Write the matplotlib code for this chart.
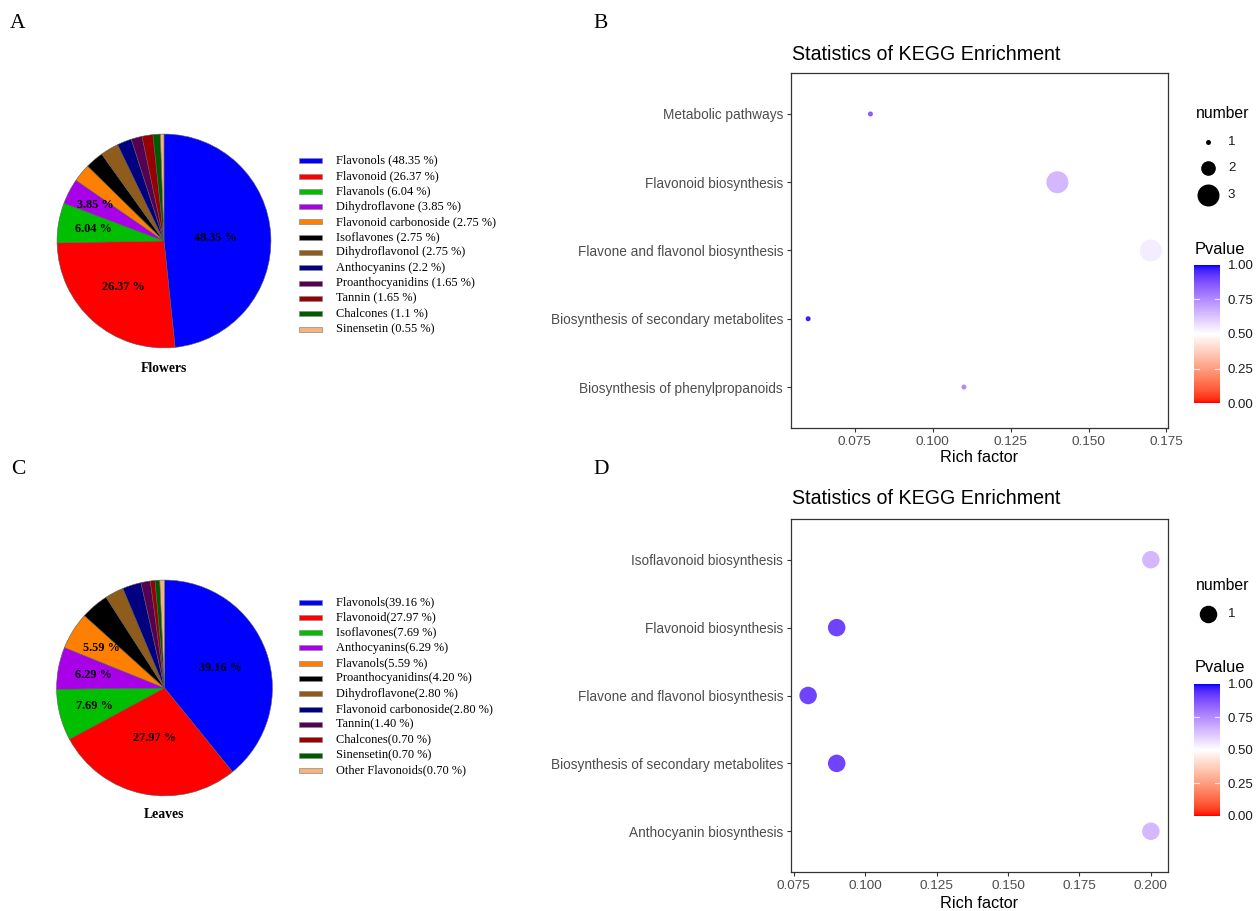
import numpy as np
import matplotlib
matplotlib.use("Agg")
import matplotlib.pyplot as plt
from matplotlib.colors import ListedColormap, Normalize
from matplotlib.patches import Rectangle
from matplotlib.ticker import MultipleLocator, FormatStrFormatter

W, H, DPI = 1258, 911, 100

# ---------------- data ----------------
flower_classes = ["Flavonols", "Flavonoid", "Flavanols", "Dihydroflavone",
                  "Flavonoid carbonoside", "Isoflavones", "Dihydroflavonol",
                  "Anthocyanins", "Proanthocyanidins", "Tannin", "Chalcones",
                  "Sinensetin"]
flower_pct = [48.35, 26.37, 6.04, 3.85, 2.75, 2.75, 2.75, 2.2, 1.65, 1.65, 1.1, 0.55]

leaf_classes = ["Flavonols", "Flavonoid", "Isoflavones", "Anthocyanins", "Flavanols",
                "Proanthocyanidins", "Dihydroflavone", "Flavonoid carbonoside",
                "Tannin", "Chalcones", "Sinensetin", "Other Flavonoids"]
leaf_pct = [39.16, 27.97, 7.69, 6.29, 5.59, 4.20, 2.80, 2.80, 1.40, 0.70, 0.70, 0.70]

slice_colors = ["#0000ff", "#ff0000", "#00bf00", "#a800e8", "#ff8000", "#000000",
                "#8f5c1c", "#000080", "#560052", "#990000", "#005a00", "#f5b47c"]

kegg_b_terms = ["Metabolic pathways", "Flavonoid biosynthesis",
                "Flavone and flavonol biosynthesis",
                "Biosynthesis of secondary metabolites",
                "Biosynthesis of phenylpropanoids"]
kegg_b_rich = [0.08, 0.14, 0.17, 0.06, 0.11]
kegg_b_number = [1, 3, 3, 1, 1]
kegg_b_pvalue = [0.85, 0.65, 0.54, 0.97, 0.75]

kegg_d_terms = ["Isoflavonoid biosynthesis", "Flavonoid biosynthesis",
                "Flavone and flavonol biosynthesis",
                "Biosynthesis of secondary metabolites",
                "Anthocyanin biosynthesis"]
kegg_d_rich = [0.20, 0.09, 0.08, 0.09, 0.20]
kegg_d_number = [1, 1, 1, 1, 1]
kegg_d_pvalue = [0.65, 0.90, 0.90, 0.90, 0.65]

# ---------------- colour scale (red - white - blue, Lab interpolation) ----------------
_M = np.array([[0.4124564, 0.3575761, 0.1804375],
               [0.2126729, 0.7151522, 0.0721750],
               [0.0193339, 0.1191920, 0.9503041]])
_WHITE = np.array([0.95047, 1.0, 1.08883])
_D = 6 / 29


def srgb_to_lab(rgb):
    rgb = np.asarray(rgb, float)
    lin = np.where(rgb <= 0.04045, rgb / 12.92, ((rgb + 0.055) / 1.055) ** 2.4)
    t = (lin @ _M.T) / _WHITE
    f = np.where(t > _D ** 3, np.cbrt(t), t / (3 * _D * _D) + 4 / 29)
    return np.stack([116 * f[..., 1] - 16,
                     500 * (f[..., 0] - f[..., 1]),
                     200 * (f[..., 1] - f[..., 2])], -1)


def lab_to_srgb(lab):
    fy = (lab[..., 0] + 16) / 116
    fx = fy + lab[..., 1] / 500
    fz = fy - lab[..., 2] / 200

    def finv(f):
        return np.where(f > _D, f ** 3, 3 * _D * _D * (f - 4 / 29))

    xyz = np.stack([finv(fx), finv(fy), finv(fz)], -1) * _WHITE
    lin = np.clip(xyz @ np.linalg.inv(_M).T, 0, 1)
    rgb = np.where(lin <= 0.0031308, 12.92 * lin, 1.055 * lin ** (1 / 2.4) - 0.055)
    return np.clip(rgb, 0, 1)


lab_low, lab_mid, lab_high = (srgb_to_lab(c) for c in ([1, 0, 0], [1, 1, 1], [0, 0, 1]))
tt = np.linspace(0, 1, 256)[:, None]
lab = np.where(tt < 0.5,
               lab_low + (lab_mid - lab_low) * (tt / 0.5),
               lab_mid + (lab_high - lab_mid) * ((tt - 0.5) / 0.5))
pcmap = ListedColormap(lab_to_srgb(lab))
pnorm = Normalize(0, 1)

# ---------------- figure ----------------
fig = plt.figure(figsize=(W / DPI, H / DPI), dpi=DPI)
fig.patch.set_facecolor("white")


def px_axes(x0, y0, x1, y1, **kw):
    return fig.add_axes([x0 / W, 1 - y1 / H, (x1 - x0) / W, (y1 - y0) / H], **kw)


canvas = px_axes(0, 0, W, H)
canvas.set_xlim(0, W)
canvas.set_ylim(H, 0)
canvas.axis("off")
canvas.patch.set_alpha(0)

SERIF = "Liberation Serif"
SANS = "Liberation Sans"

for letter, (x, y) in zip("ABCD", [(18, 24), (601, 24), (18, 469), (601, 469)]):
    canvas.text(x, y, letter, family=SERIF, fontsize=15.5, ha="center", va="center")


def pie_panel(cx, cy, r, values, classes, n_labels, label_r, caption, cap_y,
              leg_y0, fmt):
    ax = px_axes(cx - r, cy - r, cx + r, cy + r)
    ax.patch.set_alpha(0)
    wedges, _ = ax.pie(values, colors=slice_colors[:len(values)], startangle=90,
                       counterclock=False, radius=1,
                       wedgeprops=dict(edgecolor="#5a5a5a", linewidth=0.4))
    ax.set_xlim(-1.01, 1.01)
    ax.set_ylim(-1.01, 1.01)
    ax.set_aspect("equal")
    for w, v, lr in zip(wedges[:n_labels], values[:n_labels], label_r):
        th = np.deg2rad((w.theta1 + w.theta2) / 2)
        ax.text(lr * np.cos(th), lr * np.sin(th), f"{v:.2f} %", family=SERIF,
                fontweight="bold", fontsize=8.8, ha="center", va="center")
    canvas.text(cx, cap_y, caption, family=SERIF, fontweight="bold",
                fontsize=9.8, ha="center", va="center")
    step = 15.3
    for i, (name, v, w) in enumerate(zip(classes, values, wedges)):
        y = leg_y0 + i * step
        canvas.add_patch(Rectangle((299, y - 2.5), 23, 5, facecolor=w.get_facecolor(),
                                   edgecolor="#8a8a8a", linewidth=0.5))
        canvas.text(336, y, fmt(name, v), family=SERIF, fontsize=8.9,
                    ha="left", va="center")


pie_panel(164, 241, 108, flower_pct, flower_classes, 4, [0.48, 0.58, 0.67, 0.73],
          "Flowers", 369, 160.7, lambda n, v: f"{n} ({v} %)")
pie_panel(164.5, 688, 109, leaf_pct, leaf_classes, 5, [0.55, 0.47, 0.67, 0.67, 0.69],
          "Leaves", 815, 602, lambda n, v: f"{n}({v:.2f} %)")


def kegg_panel(box, terms, rich, number, pvalue, diam_fn, size_breaks, title_y,
               xlab_y, leg):
    x0, y0, x1, y1 = box
    ax = px_axes(x0, y0, x1, y1)
    n = len(terms)
    ypos = np.arange(n)[::-1]
    diam = np.array([diam_fn(k) for k in number])
    sizes = (diam * 72 / DPI) ** 2
    ax.scatter(rich, ypos, s=sizes, c=pvalue, cmap=pcmap, norm=pnorm,
               linewidths=0, zorder=3)
    lo, hi = min(rich), max(rich)
    pad = 0.05 * (hi - lo)
    ax.set_xlim(lo - pad, hi + pad)
    ax.set_ylim(-0.6, n - 0.4)
    ax.xaxis.set_major_locator(MultipleLocator(0.025))
    ax.xaxis.set_major_formatter(FormatStrFormatter("%.3f"))
    ax.set_yticks(ypos)
    ax.set_yticklabels(terms)
    ax.tick_params(axis="both", colors="#333333", length=3.2, width=0.8,
                   labelcolor="#4d4d4d", labelsize=9.8)
    ax.tick_params(axis="y", pad=2.5)
    ax.tick_params(axis="x", pad=2.5, labelsize=9.7)
    for lbl in ax.get_xticklabels() + ax.get_yticklabels():
        lbl.set_family(SANS)
    for sp in ax.spines.values():
        sp.set_color("#333333")
        sp.set_linewidth(0.9)
    canvas.text(x0 + 1, title_y, "Statistics of KEGG Enrichment", family=SANS,
                fontsize=14.1, ha="left", va="center", color="black")
    canvas.text((x0 + x1) / 2, xlab_y, "Rich factor", family=SANS, fontsize=11.7,
                ha="center", va="center", color="black")

    # size legend
    canvas.text(1196, leg["num_title"], "number", family=SANS, fontsize=11.3,
                ha="left", va="center")
    for k, yk in zip(size_breaks, leg["num_ys"]):
        canvas.scatter([1208], [yk], s=(diam_fn(k) * 72 / DPI) ** 2, c="black",
                       linewidths=0)
        canvas.text(1228, yk, str(k), family=SANS, fontsize=9.6, ha="left",
                    va="center", color="#1a1a1a")

    # colour legend
    canvas.text(1195, leg["p_title"], "Pvalue", family=SANS, fontsize=11.8,
                ha="left", va="center")
    cb0, cb1 = leg["bar"]
    cax = px_axes(1194, cb0, 1220, cb1)
    cb = fig.colorbar(plt.cm.ScalarMappable(norm=pnorm, cmap=pcmap), cax=cax)
    cb.outline.set_visible(False)
    cb.set_ticks([0, 0.25, 0.5, 0.75, 1.0])
    cb.set_ticklabels(["0.00", "0.25", "0.50", "0.75", "1.00"])
    cax.tick_params(length=0, pad=5.5, labelsize=9.5, labelcolor="#1a1a1a")
    for lbl in cax.get_yticklabels():
        lbl.set_family(SANS)
    for v in [0.25, 0.5, 0.75]:
        cax.plot([0, 0.2], [v, v], color="white", lw=0.8, alpha=0.8)
        cax.plot([0.8, 1], [v, v], color="white", lw=0.8, alpha=0.8)
    cax.set_xlim(0, 1)
    return ax


def diam_b(k):
    lo, hi = min(kegg_b_number), max(kegg_b_number)
    return 5.0 + (np.sqrt(k) - np.sqrt(lo)) / (np.sqrt(hi) - np.sqrt(lo)) * 17.0


def diam_d(k):
    return 17.5


kegg_panel((791, 73, 1168, 428), kegg_b_terms, kegg_b_rich, kegg_b_number,
           kegg_b_pvalue, diam_b, [1, 2, 3], 55, 458,
           dict(num_title=114, num_ys=[142, 168, 195], p_title=250, bar=(265, 403)))
kegg_panel((791, 519, 1168, 872), kegg_d_terms, kegg_d_rich, kegg_d_number,
           kegg_d_pvalue, diam_d, [1], 499, 903,
           dict(num_title=585, num_ys=[614], p_title=668, bar=(684, 816)))

fig.savefig("out.png", dpi=DPI, facecolor="white")
